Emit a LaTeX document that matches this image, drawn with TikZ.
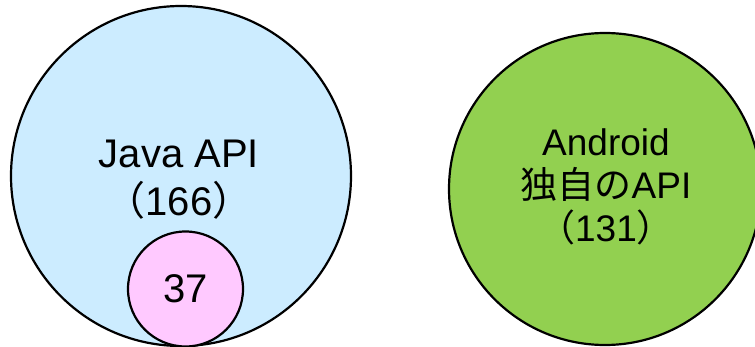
\documentclass[tikz,border=0pt]{standalone}
\usepackage{fontspec}
\setmainfont{Liberation Sans}
\newfontfamily\jpfont{Noto Sans CJK JP}

\definecolor{javablue}{HTML}{CCECFF}
\definecolor{sharedpink}{HTML}{FFC9FF}
\definecolor{droidgreen}{HTML}{92D050}

\tikzset{
  apiset/.style={circle, draw=black, line width=2.2pt, inner sep=0pt},
  setlabel/.style={align=center, inner sep=0pt, font=\fontsize{40}{48}\selectfont}
}

\begin{document}
\begin{tikzpicture}[x=1pt,y=-1pt]
% page frame, right circle runs off the edge
\useasboundingbox (0,0) rectangle (755,347);
\clip (0,0) rectangle (755,347);

% Java API set and the part shared with Android
\node[apiset, fill=javablue, minimum size=340pt] (java) at (181,176) {};
\node[apiset, fill=sharedpink, minimum size=115pt] (shared) at (185.5,289) {};

% Android-only set
\node[apiset, fill=droidgreen, minimum size=312pt] (android) at (605,189) {};

% Text Node (base = last line)
\node[setlabel, anchor=base] (javatxt) at (179,215.5) {Java API\\{\jpfont （}166{\jpfont ）}};
\node[setlabel, anchor=base] (sharedtxt) at (185.5,303) {37};
\node[setlabel, anchor=base, font=\fontsize{37}{43}\selectfont] (droidtxt) at (606,242) {Android\\{\jpfont 独自の}API\\{\jpfont （}131{\jpfont ）}};

\end{tikzpicture}
\end{document}
